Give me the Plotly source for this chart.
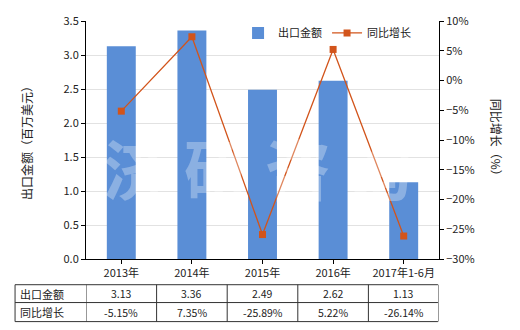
import plotly.graph_objects as go

categories = ["2013年", "2014年", "2015年", "2016年", "2017年1-6月"]
export_values = [3.13, 3.36, 2.49, 2.62, 1.13]
growth_values = [-5.15, 7.35, -25.89, 5.22, -26.14]
export_labels = ["3.13", "3.36", "2.49", "2.62", "1.13"]
growth_labels = ["-5.15%", "7.35%", "-25.89%", "5.22%", "-26.14%"]

FONT = "Noto Sans CJK SC, Microsoft YaHei, sans-serif"
BAR_C = "#5a8ed6"
LINE_C = "#d2541b"

fig = go.Figure()
fig.add_trace(go.Bar(x=categories, y=export_values, name="出口金额",
                     marker=dict(color=BAR_C, line=dict(width=0)), yaxis="y"))
fig.add_trace(go.Scatter(x=categories, y=growth_values, name="同比增长", yaxis="y2",
                         mode="lines+markers",
                         line=dict(color=LINE_C, width=1.3),
                         marker=dict(symbol="square", size=7, color=LINE_C)))

shapes = []
annotations = []
# table geometry (paper coords)
y_top, y_mid, y_bot = -0.108, -0.183, -0.263
left = -0.201
for yy in (y_top, y_mid, y_bot):
    shapes.append(dict(type="line", xref="paper", yref="paper", x0=left, x1=0.997,
                       y0=yy, y1=yy, line=dict(color="#333", width=1)))
shapes.append(dict(type="line", xref="paper", yref="paper", x0=left, x1=left,
                   y0=y_top, y1=y_bot, line=dict(color="#333", width=1)))
for i in range(len(categories) + 1):
    shapes.append(dict(type="line", xref="x", yref="paper", x0=i - 0.5, x1=i - 0.5,
                       y0=y_top, y1=y_bot, line=dict(color="#333", width=1)))

row_mid1 = (y_top + y_mid) / 2
row_mid2 = (y_mid + y_bot) / 2
for txt, ym in (("出口金额", row_mid1), ("同比增长", row_mid2)):
    annotations.append(dict(text=txt, xref="paper", yref="paper", x=left + 0.008, y=ym,
                            xanchor="left", yanchor="middle", showarrow=False,
                            font=dict(size=11, color="#222", family=FONT)))
for i, c in enumerate(categories):
    annotations.append(dict(text=export_labels[i], xref="x", yref="paper", x=c, y=row_mid1,
                            xanchor="center", yanchor="middle", showarrow=False,
                            font=dict(size=10.5, color="#222", family=FONT)))
    annotations.append(dict(text=growth_labels[i], xref="x", yref="paper", x=c, y=row_mid2,
                            xanchor="center", yanchor="middle", showarrow=False,
                            font=dict(size=10.5, color="#222", family=FONT)))

# watermark
annotations.append(dict(text="<b>济 研 咨 询</b>", xref="paper", yref="paper", x=0.485, y=0.39,
                        xanchor="center", yanchor="middle",
                        showarrow=False, font=dict(size=66, color="rgba(255,255,255,0.3)",
                                                   family=FONT)))
# right axis title
annotations.append(dict(text="同比增长（%）", xref="paper", yref="paper", x=1.165, y=0.5,
                        xanchor="center", yanchor="middle",
                        textangle=90, showarrow=False,
                        font=dict(size=12, color="#222", family=FONT)))

fig.update_layout(
    width=520, height=330,
    margin=dict(l=86, r=81, t=19, b=71),
    paper_bgcolor="white", plot_bgcolor="white",
    font=dict(family=FONT, size=11, color="#222"),
    bargap=0.59,
    showlegend=True,
    legend=dict(orientation="h", x=0.935, y=0.95, xanchor="right", yanchor="middle",
                bgcolor="rgba(0,0,0,0)", font=dict(size=11, family=FONT),
                itemwidth=30),
    xaxis=dict(showline=True, linecolor="#000", linewidth=1, ticks="outside",
               ticklen=4, tickcolor="#000", showgrid=False, range=[-0.5, 4.5],
               tickfont=dict(size=11)),
    yaxis=dict(range=[0, 3.5], dtick=0.5, tickformat=".1f", showline=True,
               linecolor="#000", linewidth=1, ticks="outside", ticklen=4,
               tickcolor="#000", gridcolor="#e2e2e2", zeroline=False,
               title=dict(text="出口金额（百万美元）", font=dict(size=12), standoff=28),
               tickfont=dict(size=11)),
    yaxis2=dict(range=[-30, 10], dtick=5, ticksuffix="%", overlaying="y", side="right",
                showline=True, linecolor="#000", linewidth=1, ticks="outside",
                ticklen=4, tickcolor="#000", showgrid=False, zeroline=False,
                tickfont=dict(size=11)),
    shapes=shapes,
    annotations=annotations,
)

fig.write_html("out.html")
